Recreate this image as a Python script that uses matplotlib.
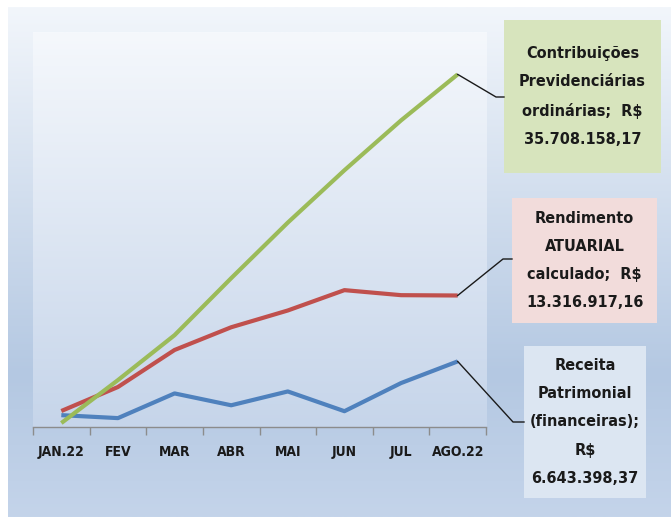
import numpy as np
import matplotlib
matplotlib.use("Agg")
import matplotlib.pyplot as plt
from matplotlib.colors import LinearSegmentedColormap
from matplotlib.patches import Rectangle
from matplotlib.lines import Line2D

months = ["JAN.22", "FEV", "MAR", "ABR", "MAI", "JUN", "JUL", "AGO.22"]
# cumulative values, millions of R$
contribuicoes = [0.40, 4.75, 9.30, 15.07, 20.70, 26.00, 31.05, 35.708158]
rendimento = [1.62, 4.05, 7.80, 10.10, 11.80, 13.86, 13.35, 13.316917]
receita = [1.20, 0.90, 3.40, 2.20, 3.60, 1.60, 4.45, 6.643398]

labels = [
    "Contribuições\nPrevidenciárias\nordinárias;  R$\n35.708.158,17",
    "Rendimento\nATUARIAL\ncalculado;  R$\n13.316.917,16",
    "Receita\nPatrimonial\n(financeiras);\nR$\n6.643.398,37",
]
colors = ["#9bbb59", "#c0504d", "#4f81bd"]
box_colors = ["#d7e4bd", "#f2dcdb", "#dce6f2"]

W, H = 671, 517
fig = plt.figure(figsize=(W / 100, H / 100), dpi=100)
fig.patch.set_facecolor("white")

# figure background gradient
bg = fig.add_axes([8 / W, 0, 1 - 8 / W, (H - 7) / H], zorder=0)
cmap_bg = LinearSegmentedColormap.from_list(
    "bg", [(0, "#f2f6fb"), (0.72, "#b4c8e2"), (1, "#c4d4ea")])
grad = np.linspace(0, 1, 256).reshape(-1, 1)
bg.imshow(grad, aspect="auto", cmap=cmap_bg, extent=[0, 1, 0, 1], origin="upper")
bg.set_axis_off()

ax = fig.add_axes([33 / W, (H - 427) / H, (486 - 33) / W, (427 - 32) / H], zorder=1)
cmap_pa = LinearSegmentedColormap.from_list(
    "pa", [(0, "#f5f8fc"), (1, "#c6d5ea")])
ax.imshow(grad, aspect="auto", cmap=cmap_pa, extent=[-0.5, 7.5, 0, 40],
          origin="upper", zorder=0)

x = np.arange(len(months))
for vals, c in zip([receita, rendimento, contribuicoes], [colors[2], colors[1], colors[0]]):
    ax.plot(x, vals, color=c, lw=3.0, solid_capstyle="butt", zorder=3)

ax.set_xlim(-0.5, 7.5)
ax.set_ylim(0, 40)
for s in ["top", "right", "left"]:
    ax.spines[s].set_visible(False)
ax.spines["bottom"].set_color("#8c8c8c")
ax.spines["bottom"].set_linewidth(1.0)
ax.set_yticks([])
ax.set_xticks(x)
ax.set_xticklabels(months, fontweight="bold", fontsize=10, color="#1a1a1a",
                   fontstretch="condensed")
ax.tick_params(axis="x", which="major", length=0, pad=13)
ax.set_xticks(np.arange(-0.5, 8.0, 1.0), minor=True)
ax.tick_params(axis="x", which="minor", length=6, color="#8c8c8c", width=1.0)

# annotation boxes (figure pixel coords, top-origin values converted)
boxes = [(504, 20, 661, 173), (512, 198, 657, 323), (524, 346, 646, 498)]
elbows = [(496, 97), (503, 259), (513, 422)]
ends = [contribuicoes[-1], rendimento[-1], receita[-1]]

for (x0, y0, x1, y1), bc, lab, (ex, ey), v in zip(boxes, box_colors, labels, elbows, ends):
    fig.patches.append(Rectangle((x0 / W, 1 - y1 / H), (x1 - x0) / W, (y1 - y0) / H,
                                 transform=fig.transFigure, facecolor=bc,
                                 edgecolor="none", zorder=2))
    fig.text((x0 + x1) / 2 / W, 1 - (y0 + y1) / 2 / H, lab, ha="center", va="center",
             fontsize=11.6, fontweight="bold", fontstretch="condensed",
             color="#1a1a1a", linespacing=2.1, zorder=3)
    px, py = ax.transData.transform((7, v))
    fig.lines.append(Line2D([px / W, ex / W, x0 / W], [py / H, 1 - ey / H, 1 - ey / H],
                            transform=fig.transFigure, color="#1a1a1a", lw=1.0, zorder=4))

fig.savefig("out.png", dpi=100)
